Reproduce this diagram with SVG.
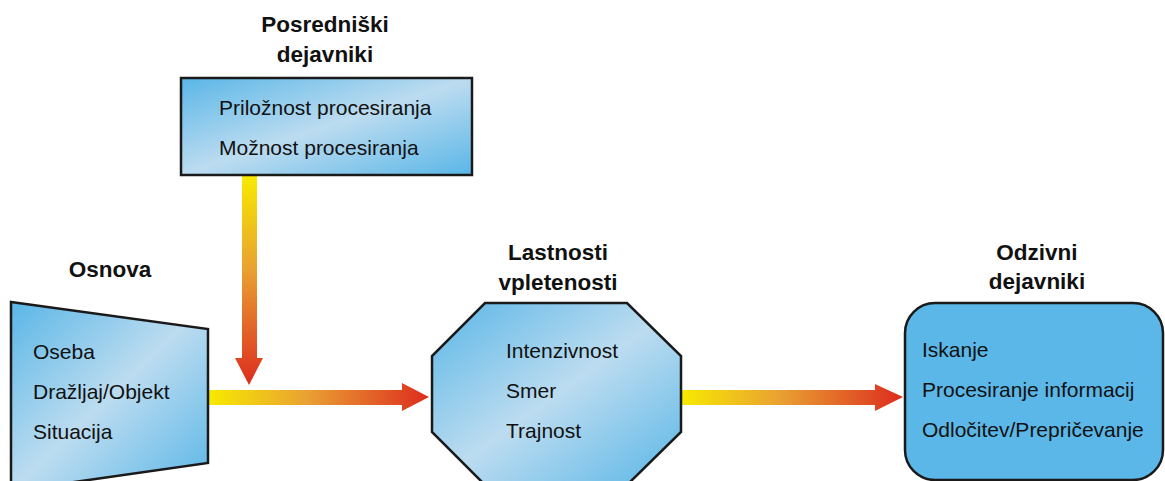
<svg xmlns="http://www.w3.org/2000/svg" width="1165" height="481" viewBox="0 0 1165 481">
  <style>
    .box { stroke: #1a1a1a; stroke-width: 2.5; }
    .title { font-family: "Liberation Sans", Arial, sans-serif; font-weight: bold; font-size: 22.5px; fill: #111; text-anchor: middle; }
    .item { font-family: "Liberation Sans", Arial, sans-serif; font-size: 21px; fill: #111; }
  </style>
  <defs>
    <linearGradient id="blueSheen" x1="0" y1="0" x2="1" y2="1">
      <stop offset="0" stop-color="#5ab6e7"/>
      <stop offset="0.5" stop-color="#bcdcf0"/>
      <stop offset="1" stop-color="#5ab6e7"/>
    </linearGradient>
    <linearGradient id="heatDown" gradientUnits="userSpaceOnUse" x1="0" y1="176" x2="0" y2="385">
      <stop offset="0" stop-color="#f7ea00"/>
      <stop offset="0.45" stop-color="#e9a032"/>
      <stop offset="1" stop-color="#dc2c1e"/>
    </linearGradient>
    <linearGradient id="heatRight1" gradientUnits="userSpaceOnUse" x1="209" y1="0" x2="429" y2="0">
      <stop offset="0" stop-color="#f7ea00"/>
      <stop offset="0.45" stop-color="#e9a032"/>
      <stop offset="1" stop-color="#dc2c1e"/>
    </linearGradient>
    <linearGradient id="heatRight2" gradientUnits="userSpaceOnUse" x1="681" y1="0" x2="903" y2="0">
      <stop offset="0" stop-color="#f7ea00"/>
      <stop offset="0.45" stop-color="#e9a032"/>
      <stop offset="1" stop-color="#dc2c1e"/>
    </linearGradient>
  </defs>

  <!-- connectors: broad gradient arrows -->
  <g id="connectors">
    <polygon points="242,175 257,175 257,358 263,358 249,385 235,358 242,358" fill="url(#heatDown)"/>
    <polygon points="209,390 402,390 402,383 429,397 402,411 402,405 209,405" fill="url(#heatRight1)"/>
    <polygon points="681,390 875,390 875,384 903,397 875,411 875,405 681,405" fill="url(#heatRight2)"/>
  </g>

  <!-- mediating factors -->
  <g id="posredniski">
    <text class="title" x="325" y="32">Posredniški</text>
    <text class="title" x="325" y="62">dejavniki</text>
    <rect class="box" x="181" y="78" width="291" height="97" fill="url(#blueSheen)"/>
    <text class="item" x="219" y="115">Priložnost procesiranja</text>
    <text class="item" x="219" y="155">Možnost procesiranja</text>
  </g>

  <!-- basis -->
  <g id="osnova">
    <text class="title" x="110" y="277">Osnova</text>
    <polygon class="box" points="11,302 208,329 208,463 11,491" fill="url(#blueSheen)"/>
    <text class="item" x="33" y="359">Oseba</text>
    <text class="item" x="33" y="399">Dražljaj/Objekt</text>
    <text class="item" x="33" y="439">Situacija</text>
  </g>

  <!-- involvement properties -->
  <g id="lastnosti">
    <text class="title" x="558" y="260">Lastnosti</text>
    <text class="title" x="558" y="290">vpletenosti</text>
    <polygon class="box" points="485,303 627,303 681,356 681,432 627,485 485,485 432,432 432,356" fill="url(#blueSheen)"/>
    <text class="item" x="506" y="358">Intenzivnost</text>
    <text class="item" x="506" y="398">Smer</text>
    <text class="item" x="506" y="438">Trajnost</text>
  </g>

  <!-- response factors -->
  <g id="odzivni">
    <text class="title" x="1037" y="260">Odzivni</text>
    <text class="title" x="1037" y="289">dejavniki</text>
    <rect class="box" x="905" y="303" width="258" height="177" rx="30" ry="30" fill="#5ab7e8"/>
    <text class="item" x="922" y="357">Iskanje</text>
    <text class="item" x="922" y="397">Procesiranje informacij</text>
    <text class="item" x="922" y="437">Odločitev/Prepričevanje</text>
  </g>
</svg>
